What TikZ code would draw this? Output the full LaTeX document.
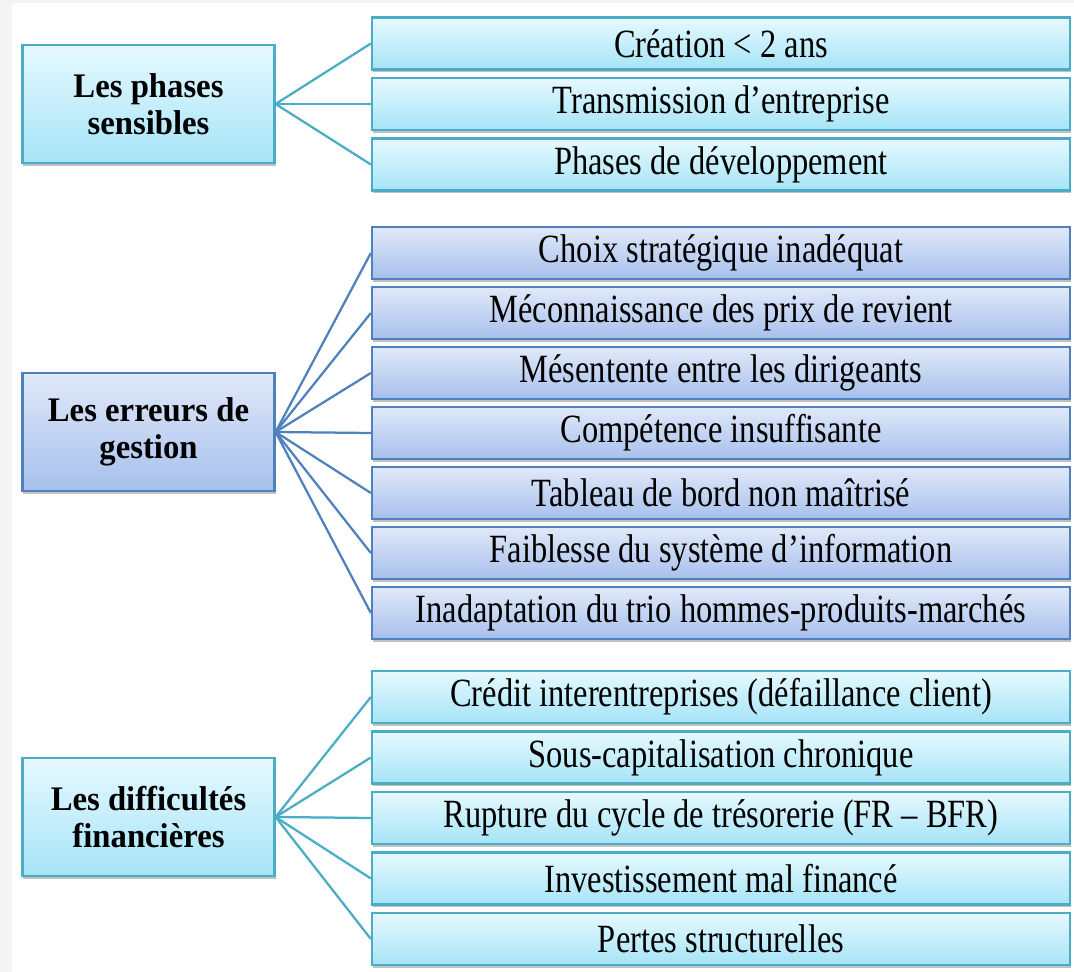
\documentclass[tikz,border=0pt]{standalone}
\usepackage{fontspec}
\setmainfont{Liberation Serif}
\newfontfamily\headfont{Liberation Serif}[FakeStretch=0.95]
\newfontfamily\itemfont{Liberation Serif}[FakeStretch=0.81]
\usetikzlibrary{positioning,shadows}

\definecolor{pagegray}{HTML}{F5F3F3}
\definecolor{aqualine}{HTML}{4BACC6}
\definecolor{aquatop}{HTML}{E6F9FE}
\definecolor{aquabot}{HTML}{A6E4F7}
\definecolor{blueline}{HTML}{4F81BD}
\definecolor{bluetop}{HTML}{E0E9F9}
\definecolor{bluebot}{HTML}{A7C0EC}

\tikzset{
  boxshadow/.style={drop shadow={shadow xshift=0.7pt, shadow yshift=-2pt, opacity=0.4, fill=black!60}},
  head/.style={draw, line width=1.5pt, boxshadow, minimum width=6.3cm, minimum height=2.95cm,
    align=center, font=\headfont\bfseries\fontsize{24.5}{26}\selectfont},
  item/.style={draw, line width=1.5pt, boxshadow, minimum width=17.45cm, minimum height=1.3cm,
    font=\itemfont\fontsize{28.5}{30}\selectfont},
  aqua/.style={top color=aquatop, bottom color=aquabot, draw=aqualine},
  bluish/.style={top color=bluetop, bottom color=bluebot, draw=blueline},
  link/.style={line width=1.6pt}
}

\begin{document}
\begin{tikzpicture}[x=0.025cm, y=-0.025cm]
    % page
    \useasboundingbox (0,0) rectangle (1074,972);
    \fill[pagegray] (0,0) rectangle (1074,972);
    \fill[white] (12,3) rectangle (1074,972);

    % Les phases sensibles
    \node[head, aqua] (phases) at (148.5,104) {Les phases\\sensibles};
    \foreach \txt [count=\i] in {Création < 2 ans, Transmission d’entreprise, Phases de développement}
        \node[item, aqua] (p\i) at (721,{43.5+(\i-1)*60.5}) {\txt};
    \foreach \i in {1,...,3}
        \draw[link, aqualine] (phases.east) -- (p\i.west);

    % Les erreurs de gestion
    \node[head, bluish] (erreurs) at (148.5,432) {Les erreurs de\\gestion};
    \foreach \txt [count=\i] in {Choix stratégique inadéquat, Méconnaissance des prix de revient,
        Mésentente entre les dirigeants, Compétence insuffisante, Tableau de bord non maîtrisé,
        Faiblesse du système d’information, Inadaptation du trio hommes-produits-marchés}
        \node[item, bluish] (e\i) at (721,{253+(\i-1)*60}) {\txt};
    \foreach \i in {1,...,7}
        \draw[link, blueline] (erreurs.east) -- (e\i.west);

    % Les difficultes financieres
    \node[head, aqua] (difficultes) at (148.5,817) {Les difficultés\\financières};
    \foreach \txt [count=\i] in {Crédit interentreprises (défaillance client), Sous-capitalisation chronique,
        Rupture du cycle de trésorerie (FR – BFR), Investissement mal financé, Pertes structurelles}
        \node[item, aqua] (d\i) at (721,{697+(\i-1)*60.5}) {\txt};
    \foreach \i in {1,...,5}
        \draw[link, aqualine] (difficultes.east) -- (d\i.west);
\end{tikzpicture}
\end{document}
